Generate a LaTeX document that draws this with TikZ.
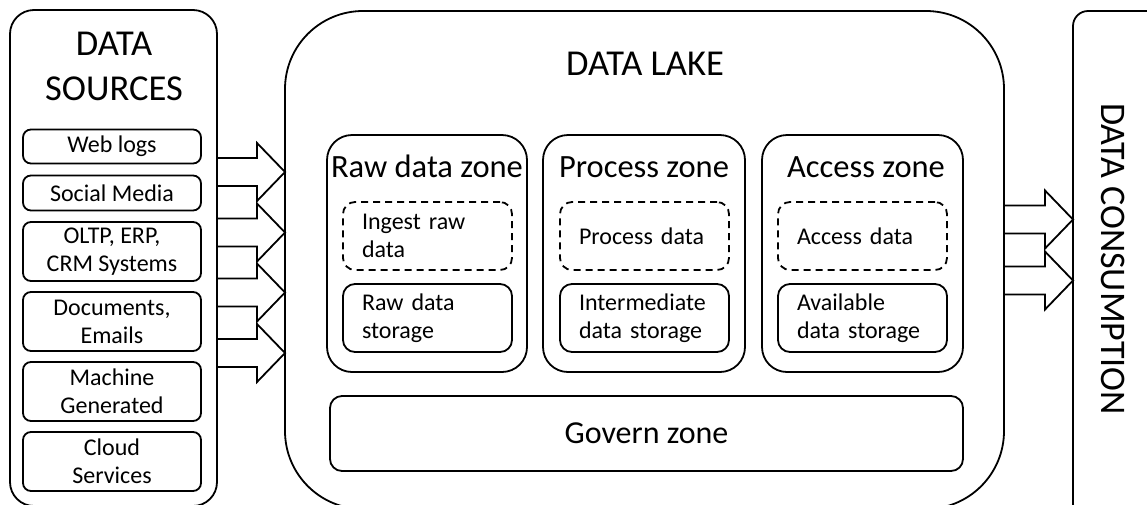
\documentclass[tikz,border=0pt]{standalone}
\usepackage{fontspec}
\setmainfont{Carlito}
\usetikzlibrary{calc}
\tikzset{
  box/.style={draw, line width=1.8pt, rectangle, rounded corners=#1, outer sep=0pt, inner sep=0pt, fill=white},
  box/.default=8pt,
  bigtitle/.style={inner sep=0pt, font=\fontsize{36.5}{45}\selectfont, align=center},
  zonetitle/.style={inner sep=0pt, font=\fontsize{32.5}{36}\selectfont},
  srcitem/.style={box=8pt, minimum width=178pt, font=\fontsize{24}{28}\selectfont, align=center},
  innerbox/.style={box=12pt, minimum width=169pt, minimum height=68pt, text width=131pt, align=left, font=\fontsize{24}{28}\selectfont},
  dashbox/.style={innerbox, dash pattern=on 7pt off 5pt},
  blockarr/.style={draw, fill=white, line width=1.8pt, line join=miter}
}
\newcommand\blockarrow[2]{%
  \draw[blockarr] let \p1=(#1), \p2=(#2) in
    (\x1,\y1+14pt) -- (\x2-28pt,\y1+14pt) -- (\x2-28pt,\y1+29pt) -- (\x2,\y1)
    -- (\x2-28pt,\y1-29pt) -- (\x2-28pt,\y1-14pt) -- (\x1,\y1-14pt) -- cycle;}
\begin{document}
\begin{tikzpicture}[x=1pt,y=-1pt]
\useasboundingbox (0,0) rectangle (1147,504);
\clip (0,0) rectangle (1147,504);

% Data sources
\node[box=24pt, minimum width=207pt, minimum height=496pt] (sources) at (113.5,258) {};
\node[bigtitle] (srctitle) at (114,66) {DATA\\SOURCES};
\node[srcitem, minimum height=34pt] (web) at (112,146.5) {Web logs};
\node[srcitem, minimum height=35pt] (social) at (112,193) {Social Media};
\node[srcitem, minimum height=59pt] (oltp) at (112,251.5) {OLTP, ERP,\\CRM Systems};
\node[srcitem, minimum height=59pt] (docs) at (112,321.5) {Documents,\\Emails};
\node[srcitem, minimum height=59pt] (machine) at (112,391.5) {Machine\\Generated};
\node[srcitem, minimum height=59pt] (cloud) at (112,461.5) {Cloud\\Services};

% Data lake
\node[box=78pt, minimum width=719pt, minimum height=498pt] (lake) at (644.5,260) {};
\node[bigtitle, anchor=base] (laketitle) at (645,75) {DATA LAKE};

\node[box=25pt, minimum width=200pt, minimum height=237pt] (rawz) at (427,253.5) {};
\node[box=25pt, minimum width=202pt, minimum height=237pt] (procz) at (644,253.5) {};
\node[box=25pt, minimum width=201pt, minimum height=237pt] (accz) at (862.5,253.5) {};
\node[zonetitle, anchor=base] (rawt) at (427,177) {Raw data zone};
\node[zonetitle, anchor=base] (proct) at (644,177) {Process zone};
\node[zonetitle, anchor=base] (acct) at (866,177) {Access zone};

\node[dashbox] (ingest) at (427.5,236) {Ingest raw\\data};
\node[innerbox] (rawst) at (427.5,318) {Raw data\\storage};
\node[dashbox] (procd) at (644.5,236) {Process data};
\node[innerbox] (interst) at (644.5,318) {Intermediate\\data storage};
\node[dashbox] (accd) at (862.5,236) {Access data};
\node[innerbox] (availst) at (862.5,318) {Available\\data storage};

\node[box=12pt, minimum width=633pt, minimum height=75pt, font=\fontsize{32}{36}\selectfont] (govern) at (646.5,433.5) {Govern zone};

% Data consumption
\node[box=15pt, minimum width=90pt, minimum height=508pt] (cons) at (1118,265) {};
\node[inner sep=0pt, rotate=-90, font=\fontsize{36}{40}\selectfont] (constext) at (1113.5,259) {DATA CONSUMPTION};

% arrows
\coordinate (ya1) at (0,172);
\coordinate (ya2) at (0,232.5);
\coordinate (ya3) at (0,292.5);
\coordinate (ya4) at (0,353);
\coordinate (yb1) at (0,219.5);
\coordinate (yb2) at (0,280.5);
\blockarrow{sources.east|-ya1}{lake.west|-ya1}
\blockarrow{sources.east|-ya2}{lake.west|-ya2}
\blockarrow{sources.east|-ya3}{lake.west|-ya3}
\blockarrow{sources.east|-ya4}{lake.west|-ya4}
\blockarrow{lake.east|-yb1}{cons.west|-yb1}
\blockarrow{lake.east|-yb2}{cons.west|-yb2}
\end{tikzpicture}
\end{document}
